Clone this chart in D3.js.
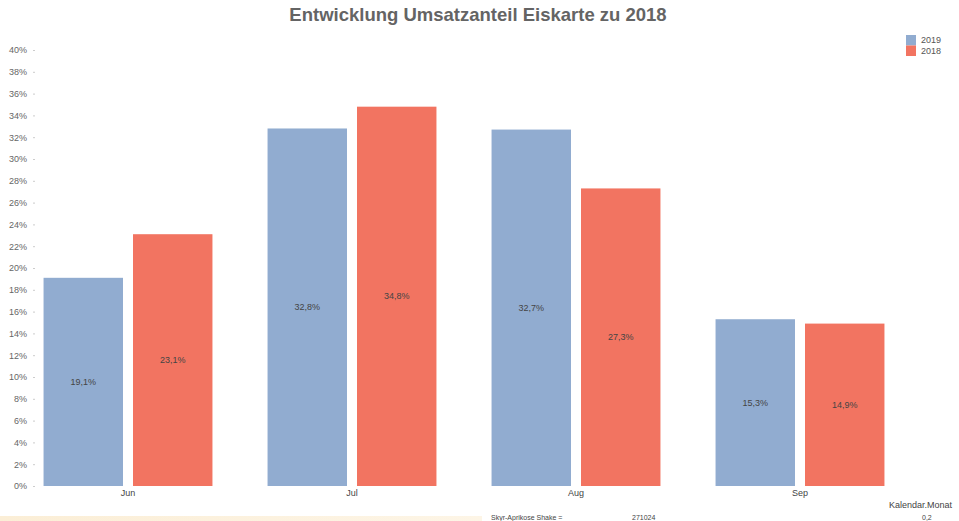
<!DOCTYPE html>
<html><head><meta charset="utf-8">
<script src="https://cdn.jsdelivr.net/npm/d3@7"></script>
<style>body{margin:0;background:#fff;}svg{display:block;font-family:"Liberation Sans",Arial,sans-serif;}</style>
</head><body><svg id="c" width="959" height="521"></svg>
<script>
const months = ["Jun", "Jul", "Aug", "Sep"];
const seriesNames = ["2019", "2018"];
const values2019 = [19.1, 32.8, 32.7, 15.3];
const values2018 = [23.1, 34.8, 27.3, 14.9];
const yTicks = [0,2,4,6,8,10,12,14,16,18,20,22,24,26,28,30,32,34,36,38,40];
const colors = ["#91acd0", "#f27461"];
const title = "Entwicklung Umsatzanteil Eiskarte zu 2018";
const xTitle = "Kalendar.Monat";
const footerTexts = ["Skyr-Aprikose Shake =", "271024", "0,2"];

const svg = d3.select("#c");
const series = [values2019, values2018];
const data = months.map((m, i) => ({month: m, vals: seriesNames.map((s, j) => ({key: s, v: series[j][i]}))}));

// bottom band
const grad = svg.append("defs").append("linearGradient").attr("id","g");
grad.append("stop").attr("offset","0%").attr("stop-color","#fbeed6");
grad.append("stop").attr("offset","100%").attr("stop-color","#fdf5e6");
svg.append("rect").attr("x",0).attr("y",516).attr("width",482).attr("height",5).attr("fill","url(#g)");

const y = d3.scaleLinear().domain([0, 40]).range([486, 50]);
const x0 = d3.scaleBand().domain(months).range([16, 912]).paddingInner(0.246).paddingOuter(0.123);
const x1 = d3.scaleBand().domain(seriesNames).range([0, x0.bandwidth()]).paddingInner(0.112);
const color = d3.scaleOrdinal().domain(seriesNames).range(colors);

svg.append("text").attr("x", 478).attr("y", 21).attr("text-anchor","middle")
  .attr("font-size", 18.5).attr("font-weight","bold").attr("fill","#646464").text(title);

const yAxis = svg.append("g").attr("transform","translate(35,0)")
  .call(d3.axisLeft(y).tickValues(yTicks).tickFormat(d => d + "%").tickSize(2).tickPadding(6));
yAxis.select(".domain").remove();
yAxis.selectAll(".tick line").attr("stroke","#cccccc");
yAxis.selectAll(".tick text").attr("font-size", 9).attr("fill","#666").attr("font-family","Liberation Sans, Arial, sans-serif");

const groups = svg.append("g").selectAll("g").data(data).join("g")
  .attr("transform", d => `translate(${x0(d.month)},0)`);
groups.selectAll("rect").data(d => d.vals).join("rect")
  .attr("x", d => x1(d.key)).attr("width", x1.bandwidth())
  .attr("y", d => y(d.v)).attr("height", d => y(0) - y(d.v))
  .attr("fill", d => color(d.key));
groups.selectAll("text").data(d => d.vals).join("text")
  .attr("x", d => x1(d.key) + x1.bandwidth()/2)
  .attr("y", d => (y(d.v) + y(0))/2 + 3)
  .attr("text-anchor","middle").attr("font-size", 9).attr("fill","#444")
  .text(d => d.v.toFixed(1).replace(".", ",") + "%");

const xAxis = svg.append("g").attr("transform","translate(0,486)")
  .call(d3.axisBottom(x0).tickSize(0).tickPadding(4));
xAxis.select(".domain").remove();
xAxis.selectAll(".tick text").attr("font-size", 9).attr("fill","#444").attr("font-family","Liberation Sans, Arial, sans-serif");

svg.append("text").attr("x", 952).attr("y", 508).attr("text-anchor","end")
  .attr("font-size", 9).attr("fill","#444").text(xTitle);

const leg = svg.append("g").selectAll("g").data(seriesNames).join("g")
  .attr("transform", (d, i) => `translate(906,${35 + i*10.5})`);
leg.append("rect").attr("width", 10).attr("height", 10.5).attr("fill", d => color(d));
leg.append("text").attr("x", 15).attr("y", 8).attr("font-size", 9).attr("fill","#555").text(d => d);

// footer row at bottom edge
const fx = [491, 632, 922];
svg.append("g").selectAll("text").data(footerTexts).join("text")
  .attr("x", (d, i) => fx[i]).attr("y", 519.5).attr("font-size", 7).attr("fill","#444").text(d => d);
</script></body></html>
